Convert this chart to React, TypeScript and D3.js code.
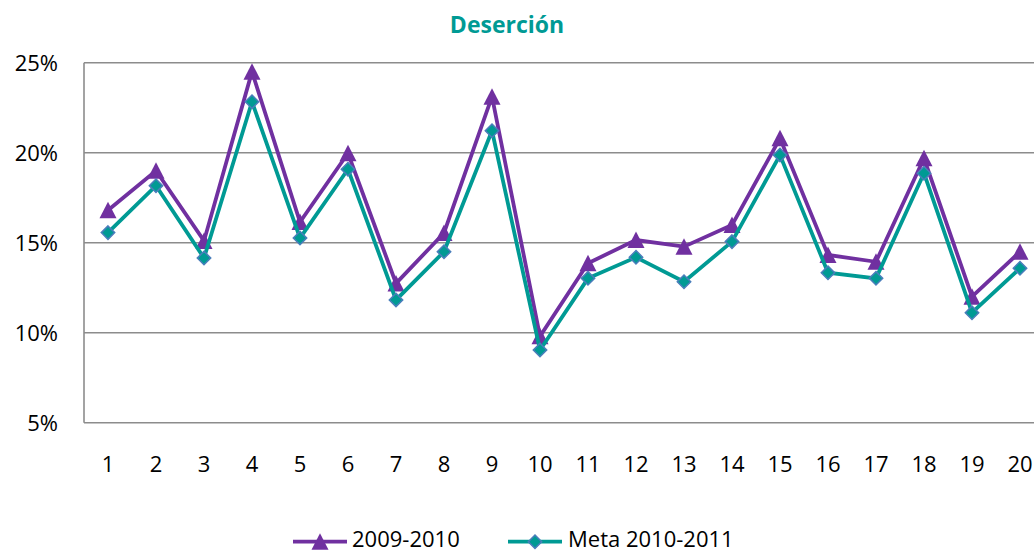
import React from "react";
import * as d3 from "d3";

const categories = ["1","2","3","4","5","6","7","8","9","10","11","12","13","14","15","16","17","18","19","20"];
const serie2009 = [16.8,19.0,15.1,24.5,16.15,19.97,12.74,15.54,23.11,9.8,13.86,15.15,14.78,15.98,20.8,14.32,13.94,19.69,12.0,14.5];
const serieMeta = [15.56,18.17,14.15,22.83,15.26,19.08,11.82,14.5,21.22,9.04,13.02,14.19,12.83,15.06,19.87,13.33,13.02,18.86,11.11,13.58];
const yTicks = [5, 10, 15, 20, 25];
const seriesNames = ["2009-2010", "Meta 2010-2011"];

const W = 1034;
const H = 553;
const PURPLE = "#7030a0";
const TEAL = "#009a94";
const DIAMOND_STROKE = "#4a7ebb";
const GRID = "#8c8c8c";
const FONT = "'Open Sans', sans-serif";

export default function App() {
  const x = d3.scaleBand<string>().domain(categories).range([84, 1044]).padding(0);
  const y = d3.scaleLinear().domain([5, 25]).range([422.7, 62.7]);
  const cx = (c: string) => (x(c) as number) + x.bandwidth() / 2;

  const line = d3
    .line<number>()
    .x((_, i) => cx(categories[i]))
    .y((d) => y(d));

  const tri = "M0,-8.5L8.5,8L-8.5,8Z";
  const dia = "M0,-6.7L6.7,0L0,6.7L-6.7,0Z";

  return (
    <svg
      width={W}
      height={H}
      style={{ position: "absolute", left: 0, top: 0, background: "#fff" }}
      fontFamily={FONT}
    >
      <rect width={W} height={H} fill="#fff" />
      <text x={507} y={33} textAnchor="middle" fontSize={23} fontWeight="bold" fill={TEAL}>
        Deserción
      </text>

      {yTicks.map((t) => (
        <g key={t}>
          <line x1={84} x2={W} y1={y(t)} y2={y(t)} stroke={GRID} strokeWidth={1.6} />
          <text x={58} y={y(t) + 8.5} textAnchor="end" fontSize={22} fill="#000">
            {t}%
          </text>
        </g>
      ))}
      <line x1={84} x2={84} y1={y(25)} y2={y(5)} stroke={GRID} strokeWidth={1.6} />

      {categories.map((c) => (
        <text key={c} x={cx(c)} y={472} textAnchor="middle" fontSize={22} fill="#000">
          {c}
        </text>
      ))}

      <path d={line(serie2009) || ""} fill="none" stroke={PURPLE} strokeWidth={3.8} strokeLinejoin="miter" />
      {serie2009.map((v, i) => (
        <path key={"p" + i} d={tri} transform={`translate(${cx(categories[i])},${y(v)})`} fill={PURPLE} />
      ))}

      <path d={line(serieMeta) || ""} fill="none" stroke={TEAL} strokeWidth={3.8} strokeLinejoin="miter" />
      {serieMeta.map((v, i) => (
        <path
          key={"m" + i}
          d={dia}
          transform={`translate(${cx(categories[i])},${y(v)})`}
          fill={TEAL}
          stroke={DIAMOND_STROKE}
          strokeWidth={1.5}
        />
      ))}

      <g>
        <line x1={293} x2={347} y1={541.7} y2={541.7} stroke={PURPLE} strokeWidth={3.8} />
        <path d={tri} transform="translate(320,541.7)" fill={PURPLE} />
        <text x={352} y={547} fontSize={22} fill="#000">
          {seriesNames[0]}
        </text>
        <line x1={508} x2={562} y1={541.7} y2={541.7} stroke={TEAL} strokeWidth={3.8} />
        <path d={dia} transform="translate(535,541.7)" fill={TEAL} stroke={DIAMOND_STROKE} strokeWidth={1.5} />
        <text x={568} y={547} fontSize={22} fill="#000">
          {seriesNames[1]}
        </text>
      </g>
    </svg>
  );
}
